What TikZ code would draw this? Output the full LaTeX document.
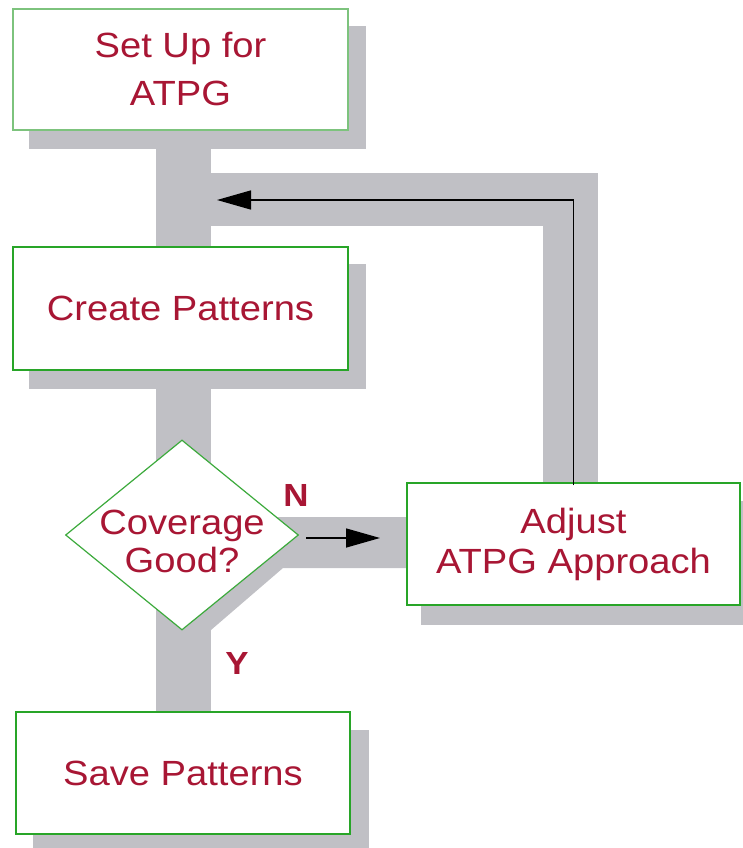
\documentclass[tikz,border=0pt]{standalone}
\usepackage{fontspec}
\setmainfont[FakeStretch=1.09]{Liberation Sans}
\usetikzlibrary{shapes.geometric,arrows.meta,backgrounds}
\definecolor{bandgray}{RGB}{192,192,197}
\definecolor{boxgreen}{RGB}{40,165,40}
\definecolor{lightgreen}{RGB}{125,195,125}
\definecolor{diagreen}{RGB}{60,170,60}
\definecolor{txtred}{RGB}{168,22,52}
\tikzset{
  stepbox/.style={draw=boxgreen, line width=1.5pt, fill=white, inner sep=0pt,
    align=center, text=txtred, font=\fontsize{35}{40}\selectfont},
  decision/.style={draw=diagreen, line width=1.2pt, fill=white, diamond, inner sep=0pt,
    minimum width=233pt, minimum height=190pt},
  dtext/.style={align=center, text=txtred, font=\fontsize{35}{38}\selectfont},
  yn/.style={text=txtred, font=\fontsize{32}{36}\selectfont\bfseries},
  flow/.style={draw=black, line width=1.5pt, -{Triangle[length=34pt,width=19pt]}},
  shadow/.style={fill=bandgray}
}
\begin{document}
\begin{tikzpicture}[x=1pt,y=-1pt]
\useasboundingbox (0,0) rectangle (742,848);
% nodes
\node[stepbox, draw=lightgreen, minimum width=335pt, minimum height=121pt,
  font=\fontsize{35}{48}\selectfont] (setup) at (180.5,69.5) {Set Up for\\ATPG};
\node[stepbox, minimum width=335pt, minimum height=123pt] (create) at (180.5,308.5) {Create Patterns};
\node[decision] (cov) at (182,535) {};
\node[dtext] (covtxt) at (182,541) {Coverage\\Good?};
\node[stepbox, minimum width=333pt, minimum height=122pt] (adjust) at (573.5,544) {Adjust\\ATPG Approach};
\node[stepbox, minimum width=334pt, minimum height=122pt] (save) at (183,773) {Save Patterns};
\node[yn] (nlab) at (296,495) {N};
\node[yn] (ylab) at (237,663) {Y};
% background bands and shadows
\begin{pgfonlayer}{background}
  \fill[shadow] ([shift={(17,18)}]setup.north west) rectangle ([shift={(17,18)}]setup.south east);
  \fill[shadow] ([shift={(17,18)}]create.north west) rectangle ([shift={(17,18)}]create.south east);
  \fill[shadow] ([shift={(18,19)}]save.north west) rectangle ([shift={(18,19)}]save.south east);
  \fill[shadow] ([shift={(15,19)}]adjust.north west) rectangle ([shift={(15,19)}]adjust.south east);
  % trunk
  \fill[shadow] (156,140) rectangle (211,250);
  \fill[shadow] (156,380) rectangle (211,715);
  % return path
  \fill[shadow] (205,173) rectangle (598,226);
  \fill[shadow] (543,173) rectangle (598,486);
  % N path with diagonal
  \fill[shadow] (182,517) -- (410,517) -- (410,568) -- (283,568) -- (211,630) -- (182,630) -- cycle;
\end{pgfonlayer}
% connectors
\coordinate (retend) at (217,200);
\draw[flow] ([yshift=-3pt]adjust.north) |- (retend);
\coordinate (nstart) at (306,538);
\coordinate (nend) at (380,538);
\draw[flow] (nstart) -- (nend);
\end{tikzpicture}
\end{document}
